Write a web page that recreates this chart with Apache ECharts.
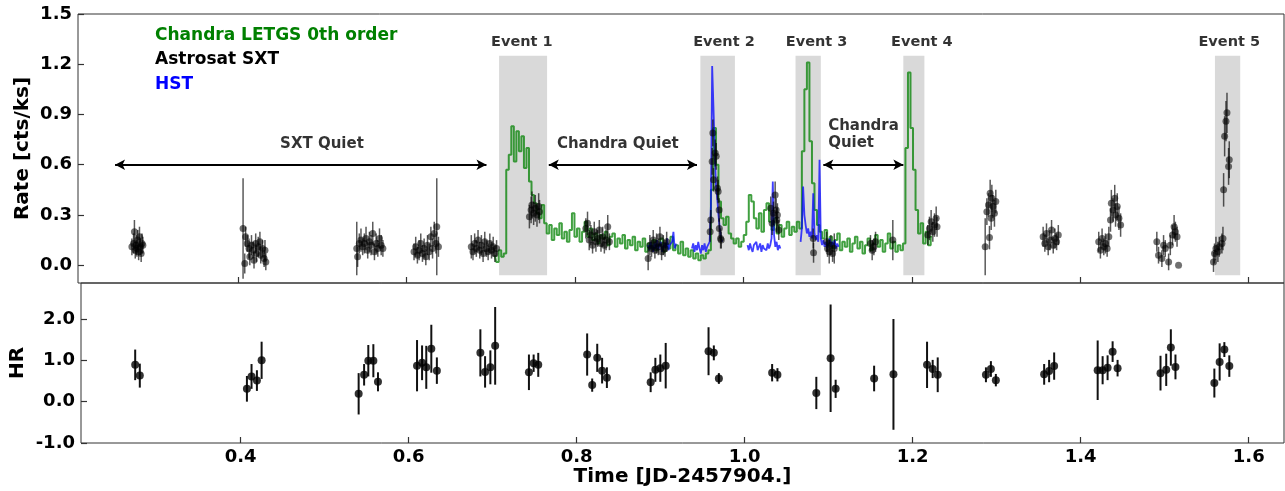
<!DOCTYPE html>
<html>
<head>
<meta charset="utf-8">
<script src="https://cdn.jsdelivr.net/npm/echarts@6/dist/echarts.min.js"></script>
<style>
  html,body{margin:0;padding:0;background:#fff;}
  #lc{width:1285px;height:491px;}
</style>
</head>
<body>
<div id="lc"></div>
<script>
// axis ticks
var xTicks = [0.4, 0.6, 0.8, 1.0, 1.2, 1.4, 1.6];
var rateTicks = [0.0, 0.3, 0.6, 0.9, 1.2, 1.5];
var hrTicks = [-1, 0, 1, 2];

// Chandra LETGS 0th order (binned light curve)
var chandraStart = 0.705, chandraBin = 0.003;
var chandraRate = [
  0.06,0.02,0.09,0.05,0.07,0.57,0.66,0.83,0.62,0.80,0.68,0.77,0.58,0.70,0.50,0.42,0.37,0.31,0.28,0.36,
  0.25,0.19,0.24,0.15,0.22,0.18,0.25,0.16,0.20,0.14,0.21,0.31,0.17,0.22,0.14,0.20,0.26,0.17,0.22,0.15,
  0.19,0.13,0.18,0.16,0.20,0.12,0.17,0.19,0.11,0.16,0.13,0.18,0.10,0.15,0.12,0.17,0.09,0.14,0.11,0.16,
  0.08,0.13,0.10,0.15,0.09,0.12,0.16,0.08,0.13,0.10,0.17,0.09,0.12,0.07,0.14,0.06,0.10,0.05,0.09,0.04,
  0.07,0.03,0.06,0.04,0.07,0.09,0.45,0.82,0.60,0.38,0.28,0.24,0.29,0.19,0.16,0.13,0.16,0.11,0.14,0.18,
  0.26,0.42,0.38,0.28,0.22,0.31,0.20,0.33,0.37,0.26,0.21,0.28,0.19,0.24,0.17,0.22,0.26,0.18,0.23,0.20,
  0.26,0.22,0.68,1.05,1.21,0.74,0.49,0.33,0.24,0.20,0.16,0.21,0.12,0.17,0.10,0.15,0.19,0.09,0.14,0.11,
  0.16,0.08,0.13,0.17,0.10,0.14,0.07,0.12,0.16,0.09,0.13,0.18,0.11,0.15,0.08,0.13,0.19,0.10,0.14,0.08,
  0.12,0.09,0.13,0.70,1.15,0.82,0.57,0.33,0.19,0.25,0.13,0.20,0.12,0.17
];

// HST segments
var hstBin = 0.0015;
var hstStart = [0.887, 0.939, 1.005, 1.068];
var hstRateA = [0.12,0.09,0.14,0.11,0.08,0.13,0.10,0.15,0.09,0.12,0.14,0.08,0.11,0.13,0.10,0.16,0.09,0.12,0.11,0.14,0.20,0.10,0.13];
var hstRateB = [0.10,0.13,0.08,0.12,0.09,0.14,0.10,0.07,0.12,0.09,0.13,0.08,0.11,0.10,0.14,0.35,1.19,0.95,0.69,0.48,0.40,0.30,0.22,0.16,0.14];
var hstRateC = [0.12,0.09,0.13,0.10,0.08,0.12,0.11,0.14,0.09,0.10,0.13,0.08,0.12,0.10,0.11,0.09,0.13,0.10,0.12,0.16,0.50,0.18,0.11,0.14,0.09,0.12,0.10];
var hstRateD = [0.14,0.22,0.47,0.30,0.24,0.19,0.22,0.17,0.20,0.16,0.43,0.19,0.15,0.18,0.14,0.63,0.16,0.12,0.15,0.11,0.14,0.10,0.13,0.16,0.11,0.14,0.12,0.15,0.10,0.13,0.11];

// Astrosat SXT rate
var sxtTime = [
  0.274,0.276,0.277,0.278,0.279,0.280,0.281,0.282,0.283,0.284,0.285,0.286,0.287,
  0.406,0.408,0.409,0.411,0.413,0.414,0.416,0.418,0.419,0.421,0.422,0.424,0.426,0.427,0.429,0.431,0.432,0.433,
  0.541,0.542,0.544,0.546,0.548,0.550,0.552,0.554,0.556,0.558,0.560,0.562,0.564,0.566,0.568,0.570,0.572,
  0.609,0.611,0.613,0.615,0.617,0.619,0.621,0.623,0.625,0.627,0.629,0.631,0.633,0.635,0.636,0.638,
  0.677,0.679,0.681,0.683,0.685,0.687,0.689,0.691,0.693,0.695,0.697,0.699,0.701,0.703,0.705,0.707,
  0.746,0.748,0.749,0.751,0.753,0.755,0.757,0.758,
  0.813,0.815,0.817,0.819,0.821,0.823,0.825,0.827,0.829,0.831,0.833,0.835,0.837,0.839,0.841,
  0.887,0.889,0.891,0.893,0.895,0.897,0.899,0.901,0.903,0.905,0.907,0.909,
  0.9606,0.9614,0.9630,0.9638,0.9646,0.9666,0.9678,0.9693,0.9701,0.9713,0.9715,0.9730,0.9738,
  1.0326,1.0342,1.0358,1.0378,1.0390,1.0398,1.0405,1.0421,
  1.0830,1.0834,1.0990,1.1000,1.1020,1.1040,1.1060,1.1080,
  1.151,1.153,1.155,1.157,1.1775,
  1.219,1.221,1.223,1.225,1.227,1.229,1.230,
  1.2872,1.2892,1.2911,1.2923,1.2931,1.2943,1.2951,1.2963,1.2982,1.2998,
  1.356,1.358,1.360,1.362,1.364,1.366,1.368,1.370,1.372,1.374,
  1.422,1.424,1.426,1.428,1.430,1.432,1.434,1.436,1.437,1.439,1.441,1.442,1.444,1.446,1.448,
  1.491,1.493,1.497,1.499,1.501,1.505,1.507,1.5096,1.5115,1.513,1.515,1.5168,
  1.5583,1.5595,1.5612,1.5635,1.5651,1.5683,1.5695,1.5703,1.5715,1.5731,1.5743,1.5762,1.5770
];
var sxtRate = [
  0.11,0.13,0.20,0.09,0.12,0.10,0.15,0.08,0.17,0.11,0.07,0.13,0.12,
  0.22,0.01,0.17,0.13,0.10,0.05,0.12,0.09,0.03,0.13,0.07,0.11,0.14,0.06,0.10,0.04,0.09,0.02,
  0.10,0.05,0.13,0.15,0.11,0.13,0.16,0.09,0.14,0.12,0.19,0.08,0.13,0.10,0.16,0.12,0.10,
  0.08,0.11,0.06,0.09,0.13,0.07,0.10,0.05,0.12,0.08,0.17,0.10,0.19,0.13,0.23,0.11,
  0.11,0.08,0.13,0.10,0.15,0.09,0.12,0.07,0.14,0.10,0.08,0.13,0.09,0.11,0.07,0.10,
  0.29,0.33,0.36,0.31,0.34,0.30,0.35,0.32,
  0.22,0.25,0.15,0.18,0.12,0.20,0.14,0.16,0.21,0.13,0.17,0.12,0.15,0.23,0.14,
  0.04,0.12,0.10,0.15,0.09,0.13,0.11,0.17,0.08,0.12,0.10,0.14,
  0.20,0.27,0.62,0.79,0.51,0.67,0.65,0.46,0.44,0.33,0.22,0.16,0.15,
  0.34,0.25,0.31,0.42,0.33,0.27,0.30,0.21,
  0.16,0.075,0.14,0.10,0.08,0.12,0.07,0.10,
  0.13,0.09,0.11,0.14,0.15,
  0.18,0.22,0.26,0.20,0.24,0.28,0.23,
  0.11,0.32,0.36,0.165,0.43,0.28,0.40,0.35,0.31,0.38,
  0.17,0.13,0.19,0.11,0.15,0.21,0.12,0.16,0.14,0.18,
  0.14,0.09,0.16,0.11,0.13,0.10,0.17,0.27,0.37,0.33,0.40,0.30,0.35,0.28,0.24,
  0.14,0.06,0.04,0.12,0.10,0.02,0.12,0.18,0.23,0.20,0.17,0.00,
  0.02,0.07,0.10,0.08,0.11,0.13,0.16,0.45,0.77,0.86,0.91,0.59,0.63
];
var sxtErr = [
  0.05,0.06,0.07,0.05,0.06,0.05,0.06,0.05,0.06,0.05,0.05,0.06,0.05,
  0.30,0.06,0.06,0.05,0.06,0.05,0.06,0.05,0.05,0.06,0.05,0.06,0.06,0.05,0.05,0.05,0.06,0.05,
  0.16,0.06,0.06,0.07,0.05,0.06,0.07,0.05,0.06,0.06,0.07,0.05,0.06,0.05,0.06,0.06,0.05,
  0.05,0.06,0.05,0.06,0.06,0.05,0.06,0.05,0.06,0.05,0.06,0.06,0.07,0.06,0.29,0.06,
  0.07,0.05,0.06,0.05,0.06,0.05,0.06,0.05,0.06,0.05,0.05,0.06,0.05,0.06,0.05,0.05,
  0.07,0.08,0.08,0.07,0.08,0.07,0.08,0.07,
  0.06,0.07,0.06,0.06,0.05,0.06,0.06,0.05,0.06,0.05,0.06,0.05,0.06,0.07,0.05,
  0.07,0.06,0.05,0.06,0.05,0.06,0.05,0.06,0.05,0.06,0.05,0.06,
  0.06,0.06,0.08,0.08,0.07,0.08,0.08,0.07,0.07,0.07,0.06,0.06,0.05,
  0.07,0.07,0.07,0.08,0.07,0.07,0.07,0.06,
  0.06,0.06,0.06,0.05,0.07,0.06,0.05,0.09,
  0.05,0.06,0.05,0.06,0.12,
  0.06,0.07,0.07,0.06,0.07,0.07,0.06,
  0.17,0.08,0.07,0.07,0.08,0.07,0.08,0.07,0.08,0.07,
  0.06,0.05,0.06,0.05,0.06,0.06,0.05,0.06,0.05,0.06,
  0.06,0.05,0.06,0.05,0.06,0.05,0.06,0.07,0.08,0.07,0.08,0.07,0.08,0.07,0.07,
  0.06,0.05,0.05,0.06,0.05,0.05,0.06,0.06,0.07,0.06,0.06,0.00,
  0.06,0.06,0.07,0.06,0.06,0.06,0.07,0.10,0.12,0.12,0.12,0.11,0.11
];

// hardness ratio
var hrTime = [
  0.2745,0.280,
  0.4075,0.413,0.4194,0.425,
  0.5405,0.547,0.552,0.558,0.5635,
  0.610,0.616,0.621,0.627,0.6336,
  0.6854,0.691,0.6973,0.703,
  0.7432,0.7488,0.7543,
  0.8125,0.8185,0.8245,0.8303,0.836,
  0.8881,0.8937,0.8996,0.906,
  0.957,0.9633,0.9693,
  1.0327,1.039,
  1.0853,1.1023,1.1083,
  1.1541,1.1771,
  1.2171,1.2238,1.2298,
  1.2872,1.2931,1.299,
  1.3565,1.3624,1.3684,
  1.4202,1.4261,1.432,1.438,1.4439,
  1.495,1.5018,1.5073,1.5128,
  1.5591,1.5654,1.571,1.5769
];
var hrValue = [
  0.89,0.63,
  0.31,0.61,0.51,1.00,
  0.19,0.65,0.99,0.99,0.48,
  0.87,0.94,0.83,1.28,0.75,
  1.18,0.72,0.83,1.35,
  0.71,0.93,0.89,
  1.14,0.40,1.06,0.75,0.58,
  0.47,0.77,0.81,0.87,
  1.22,1.18,0.56,
  0.70,0.65,
  0.21,1.05,0.31,
  0.56,0.66,
  0.89,0.79,0.65,
  0.65,0.79,0.52,
  0.66,0.74,0.86,
  0.76,0.76,0.82,1.21,0.81,
  0.69,0.77,1.31,0.84,
  0.45,0.96,1.26,0.86
];
var hrErr = [
  0.37,0.29,
  0.31,0.30,0.25,0.45,
  0.50,0.26,0.38,0.40,0.23,
  0.62,0.42,0.52,0.58,0.32,
  0.57,0.38,0.41,0.94,
  0.43,0.21,0.29,
  0.51,0.16,0.34,0.31,0.25,
  0.24,0.29,0.33,0.55,
  0.58,0.18,0.13,
  0.21,0.16,
  0.39,1.30,0.22,
  0.31,1.34,
  0.56,0.22,0.42,
  0.18,0.19,0.15,
  0.25,0.27,0.33,
  0.72,0.34,0.30,0.25,0.20,
  0.42,0.39,0.44,0.30,
  0.35,0.45,0.18,0.26
];

// shaded events and annotations
var eventStart = [0.710, 0.949, 1.062, 1.190, 1.560];
var eventEnd   = [0.767, 0.990, 1.092, 1.215, 1.590];
var eventTop = 1.25, eventBottom = -0.06;
var eventName = ['Event 1', 'Event 2', 'Event 3', 'Event 4', 'Event 5'];
var eventLabelX = [0.737, 0.977, 1.087, 1.212, 1.577];
var eventLabelY = 1.33;

var arrowStart = [0.254, 0.769, 1.095];
var arrowEnd   = [0.695, 0.945, 1.190];
var arrowY = 0.6;
var noteText = ['SXT Quiet', 'Chandra Quiet', 'Chandra\nQuiet'];
var noteX = [0.4997, 0.851, 1.1007];
var noteY = [0.726, 0.726, 0.78];
var noteAlign = ['center', 'center', 'left'];

// ---- build ----
var FONT = 'DejaVu Sans';
var chandraData = chandraRate.map(function (v, i) { return [chandraStart + i * chandraBin, v]; });
var hstRates = [hstRateA, hstRateB, hstRateC, hstRateD];
var sxtData = sxtTime.map(function (t, i) { return [t, sxtRate[i], sxtErr[i]]; });
var hrData = hrTime.map(function (t, i) { return [t, hrValue[i], hrErr[i]]; });

function errBars(color, width) {
  return function (params, api) {
    var t = api.value(0), v = api.value(1), e = api.value(2);
    if (!e) return null;
    var p1 = api.coord([t, v - e]), p2 = api.coord([t, v + e]);
    return {type: 'line', shape: {x1: p1[0], y1: p1[1], x2: p2[0], y2: p2[1]},
            style: {stroke: color, lineWidth: width}};
  };
}

function xAxisCfg(idx, labels) {
  return {
    type: 'value', gridIndex: idx, min: 0.21, max: 1.642,
    axisLine: {show: false, onZero: false},
    axisTick: {show: true, inside: true, length: 6, customValues: xTicks, lineStyle: {color: '#333', width: 1.2}},
    axisLabel: {show: labels, customValues: xTicks, margin: 5, color: '#000',
                fontFamily: FONT, fontWeight: 'bold', fontSize: 18,
                formatter: function (v) { return v.toFixed(1); }},
    splitLine: {show: false}
  };
}

function yAxisCfg(idx, min, max, ticks, name, gap) {
  return {
    type: 'value', gridIndex: idx, min: min, max: max,
    name: name, nameLocation: 'middle', nameGap: gap, nameMoveOverlap: false,
    nameTextStyle: {color: '#000', fontFamily: FONT, fontWeight: 'bold', fontSize: 20},
    axisLine: {show: false, onZero: false},
    axisTick: {show: true, inside: true, length: 6, customValues: ticks, lineStyle: {color: '#333', width: 1.2}},
    axisLabel: {customValues: ticks, margin: 6, color: '#000', fontFamily: FONT, fontWeight: 'bold', fontSize: 18,
                formatter: function (v) { return v.toFixed(1); }},
    splitLine: {show: false}
  };
}

var series = [];
// grey event boxes
series.push({
  type: 'custom', xAxisIndex: 0, yAxisIndex: 0, z: 1, silent: true,
  data: eventStart.map(function (s, i) { return [s, eventEnd[i]]; }),
  renderItem: function (params, api) {
    var a = api.coord([api.value(0), eventTop]), b = api.coord([api.value(1), eventBottom]);
    return {type: 'rect', shape: {x: a[0], y: a[1], width: b[0] - a[0], height: b[1] - a[1]},
            style: {fill: '#d9d9d9'}};
  }
});
series.push({
  name: 'Chandra', type: 'line', xAxisIndex: 0, yAxisIndex: 0, z: 2, step: 'middle',
  showSymbol: false, data: chandraData,
  lineStyle: {color: 'rgba(0,128,0,0.75)', width: 2}
});
hstRates.forEach(function (arr, k) {
  series.push({
    name: 'HST', type: 'line', xAxisIndex: 0, yAxisIndex: 0, z: 3, showSymbol: false,
    data: arr.map(function (v, i) { return [hstStart[k] + i * hstBin, v]; }),
    lineStyle: {color: 'rgba(0,0,255,0.75)', width: 1.8}
  });
});
series.push({
  type: 'custom', xAxisIndex: 0, yAxisIndex: 0, z: 4, data: sxtData, clip: true,
  renderItem: errBars('rgba(0,0,0,0.65)', 1.5)
});
series.push({
  name: 'SXT', type: 'scatter', xAxisIndex: 0, yAxisIndex: 0, z: 5, symbolSize: 7,
  data: sxtData, itemStyle: {color: 'rgba(0,0,0,0.7)'}
});
series.push({
  type: 'line', xAxisIndex: 0, yAxisIndex: 0, z: 6, data: [],
  markLine: {
    silent: true, symbol: ['arrow', 'arrow'], symbolSize: [8, 10],
    lineStyle: {color: '#000', width: 2, type: 'solid'}, label: {show: false},
    data: arrowStart.map(function (a, i) { return [{coord: [a, arrowY]}, {coord: [arrowEnd[i], arrowY]}]; })
  }
});
series.push({
  type: 'scatter', xAxisIndex: 0, yAxisIndex: 0, z: 7, symbolSize: 0, silent: true,
  data: noteText.map(function (txt, i) {
    return {value: [noteX[i], noteY[i]],
            label: {show: true, position: 'inside', formatter: txt, align: noteAlign[i],
                    color: '#000', fontFamily: FONT, fontWeight: 'bold', fontSize: 15, lineHeight: 17}};
  }).concat(eventName.map(function (txt, i) {
    return {value: [eventLabelX[i], eventLabelY],
            label: {show: true, position: 'inside', formatter: txt, align: 'center',
                    color: '#000', fontFamily: FONT, fontWeight: 'bold', fontSize: 14.5}};
  }))
});
// HR panel
series.push({
  type: 'custom', xAxisIndex: 1, yAxisIndex: 1, z: 4, data: hrData, clip: true,
  renderItem: errBars('#111', 2)
});
series.push({
  name: 'HR', type: 'scatter', xAxisIndex: 1, yAxisIndex: 1, z: 5, symbolSize: 8,
  data: hrData, itemStyle: {color: '#000'}
});

var chart = echarts.init(document.getElementById('lc'));
chart.setOption({
  animation: false,
  backgroundColor: '#fff',
  grid: [
    {left: 78, top: 14, right: 1, height: 269, show: true, borderColor: '#333', borderWidth: 1, backgroundColor: 'transparent'},
    {left: 78, top: 283, right: 1, height: 160, show: true, borderColor: '#333', borderWidth: 1, backgroundColor: 'transparent'}
  ],
  xAxis: [
    xAxisCfg(0, false),
    Object.assign(xAxisCfg(1, true), {
      name: 'Time [JD-2457904.]', nameLocation: 'middle', nameGap: 24, nameMoveOverlap: false,
      nameTextStyle: {color: '#000', fontFamily: FONT, fontWeight: 'bold', fontSize: 20}
    })
  ],
  yAxis: [
    yAxisCfg(0, -0.106, 1.5, rateTicks, 'Rate [cts/ks]', 45),
    yAxisCfg(1, -1, 2.87, hrTicks, 'HR', 53)
  ],
  graphic: [
    {type: 'text', left: 155, top: 27, style: {text: 'Chandra LETGS 0th order', fill: '#008000', font: 'bold 17px "DejaVu Sans"'}},
    {type: 'text', left: 155, top: 51, style: {text: 'Astrosat SXT', fill: '#000', font: 'bold 17px "DejaVu Sans"'}},
    {type: 'text', left: 155, top: 76, style: {text: 'HST', fill: '#0000ff', font: 'bold 17px "DejaVu Sans"'}}
  ],
  series: series
});
</script>
</body>
</html>
